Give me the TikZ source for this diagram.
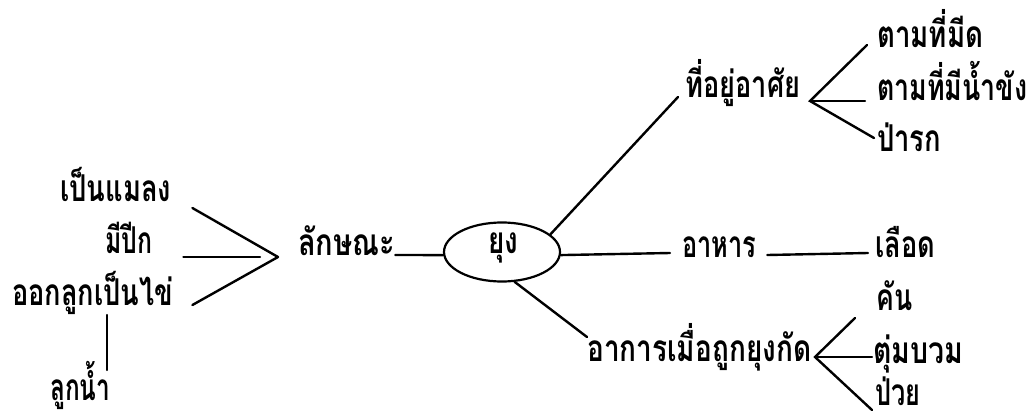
\documentclass[tikz,border=0pt]{standalone}
\usepackage{fontspec}
\newfontfamily\thaifont[Script=Thai]{Loma}
\usetikzlibrary{shapes.geometric,calc}
\newcommand{\fw}[2]{\resizebox{#1pt}{\height}{#2}}
\begin{document}
\begin{tikzpicture}[x=1pt,y=-1pt,
  t/.style={font=\thaifont\bfseries\fontsize{37}{40}\selectfont, inner sep=0pt, anchor=base west},
  ln/.style={line width=2.4pt, line cap=round},
  hub/.style={ellipse, draw, line width=2.2pt, minimum width=116pt, minimum height=59pt, inner sep=0pt}]
\useasboundingbox (0,0) rectangle (1030,415);
% center
\node[hub] (yung) at (502,252) {};
\node[t] (yungt) at (488,253) {\fw{30}{ยุง}};
% left
\node[t] (m1) at (60,201) {\fw{111}{เป็นแมลง}};
\node[t] (m2) at (105,253) {\fw{47}{มีปีก}};
\node[t] (m3) at (12,305) {\fw{161}{ออกลูกเป็นไข่}};
\node[t] (m4) at (50,400) {\fw{60}{ลูกน้ำ}};
\node[t] (lak) at (298,255) {\fw{97}{ลักษณะ}};
\coordinate (v) at (278,257);
\draw[ln] ($(m1.base east)+(21,7)$) -- (v);
\draw[ln] ($(m2.base east)+(31,4)$) -- ($(v)+(-18,0)$);
\draw[ln] ($(m3.base east)+(19,0)$) -- (v);
\draw[ln] ($(m3.base west)+(95,10)$) -- ($(m4.base west)+(57,-30)$);
\draw[ln] (lak.base east) -- (yung.183);
% habitat
\node[t] (hab) at (685,97) {\fw{115}{ที่อยู่อาศัย}};
\node[t] (h1) at (877,48) {\fw{106}{ตามที่มีด}};
\node[t] (h2) at (877,100) {\fw{150}{ตามที่มีน้ำขัง}};
\node[t] (h3) at (877,151) {\fw{64}{ป่ารก}};
\draw[ln] (yung.20) -- ($(hab.base west)+(-7,0)$);
\coordinate (fa) at (810,101);
\draw[ln] ($(h1.base west)+(-10,-3)$) -- (fa) -- ($(h3.base west)+(-3,-13)$);
\draw[ln] (fa) -- ($(h2.base west)+(-12,1)$);
% food
\node[t] (food) at (682,257) {\fw{74}{อาหาร}};
\node[t] (blood) at (875,257) {\fw{60}{เลือด}};
\draw[ln] (yung.357) -- ($(food.base west)+(-12,-4)$);
\draw[ln] ($(food.base east)+(11,-2)$) -- ($(blood.base west)+(-7,-4)$);
% symptoms
\node[t] (sym) at (587,361) {\fw{224}{อาการเมื่อถูกยุงกัด}};
\node[t] (s1) at (876,310) {\fw{36}{คัน}};
\node[t] (s2) at (873,363) {\fw{90}{ตุ่มบวม}};
\node[t] (s3) at (875,405) {\fw{45}{ป่วย}};
\draw[ln] (yung.293) -- ($(sym.base west)+(0,-24)$);
\coordinate (fb) at (815,357);
\draw[ln] ($(s1.base west)+(-21,8)$) -- (fb) -- ($(s3.base west)+(-3,5)$);
\draw[ln] (fb) -- ($(s2.base west)+(-1,-6)$);
\end{tikzpicture}
\end{document}
